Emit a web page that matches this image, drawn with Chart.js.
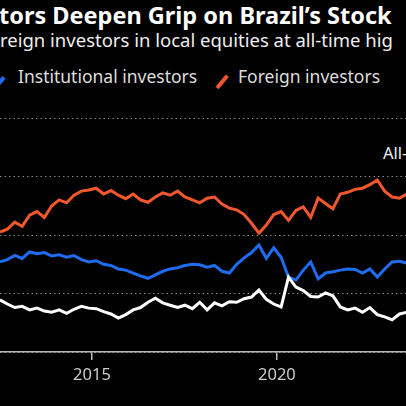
<!DOCTYPE html><html><head><meta charset="utf-8">
<script src="https://cdn.jsdelivr.net/npm/chart.js@4"></script>
<style>
html,body{margin:0;padding:0;background:#000;width:406px;height:406px;overflow:hidden;font-family:"Noto Sans",sans-serif;}
.t{position:absolute;white-space:nowrap;color:#fff;}
#wrap{position:absolute;left:0;top:112px;width:406px;height:294px;}
</style></head><body>
<div class="t" style="left:-1px;top:-1px;font-size:23.5px;font-weight:bold;">tors Deepen Grip on Brazil’s Stock</div>
<div class="t" style="left:0px;top:27px;font-size:18.5px;color:#eee;">reign investors in local equities at all-time hig</div>
<div class="t" style="left:-6px;top:80px;width:12px;height:3.5px;background:#1f6cf0;transform:rotate(-50deg);"></div>
<div class="t" style="left:18px;top:64px;font-size:17.5px;color:#ddd;">Institutional investors</div>
<div class="t" style="left:214px;top:80px;width:16px;height:3.5px;background:#f2582c;transform:rotate(-50deg);"></div>
<div class="t" style="left:238px;top:64px;font-size:17.5px;color:#ddd;">Foreign investors</div>
<div class="t" style="left:383px;top:141px;font-size:16.5px;color:#eee;">All-time high</div>
<div id="wrap"><canvas id="c"></canvas></div>
<script>
const dates = Array.from({length:56},(_,i)=>+(2012.514+i*0.2).toFixed(3));
const foreign = [20.5,21,22.2,21.5,23.4,24,23,25,26,25.5,26.8,27.5,27.7,28,27,27.6,26.8,26.2,27,26,25.6,26.5,27.2,26.8,27.5,26.5,26,25.5,26.3,26.5,25.3,24.6,24.3,23.5,22,20.3,21.7,23.5,24,22.5,24.2,24.8,23,26.3,25.4,24.5,27,27.3,27.8,28,28.6,29.4,27.5,26.5,26.3,27];
const institutional = [15.4,15.8,16.5,16,17.1,16.8,17,16.4,16.6,16.2,16.5,15.8,15.4,15.6,15,14.8,14.2,14,13.5,13,12.6,13.2,13.8,14.2,14.4,14.8,15,14.9,14.5,14.8,13.8,13.5,15,16.1,17,18.3,16,17.8,16.2,12.8,12.3,14,15.4,12.5,13.5,13.7,14,14.2,14.1,13.5,14.2,12.8,14.2,15.4,15.5,15.2];
const individual = [8.9,8.2,7.6,7.8,7.2,7.5,7,6.8,7.2,6.6,7.3,7.8,7.5,7.4,6.9,6.5,5.8,6.4,7.2,7.6,8.5,9.2,8.4,8,7.6,8,7.4,8.5,7.2,8.4,7.9,8.6,8.5,9.1,9.4,10.6,9,8.2,7.7,12.8,11.1,10.5,9.5,9.4,10.1,9.6,7.7,7.2,7.5,6.8,7.6,6.4,6,5.5,6.5,6.8];
const xTicks = [2015,2020];
const pts = a => a.map((v,i)=>({x:dates[i],y:v}));
const ds = (d,c)=>({data:pts(d),borderColor:c,borderWidth:3,pointRadius:0,tension:0,fill:false});
new Chart(document.getElementById('c'),{type:'line',
data:{datasets:[ds(individual,'#ffffff'),ds(institutional,'#1f6cf0'),ds(foreign,'#f2582c')]},
options:{responsive:true,maintainAspectRatio:false,animation:false,
layout:{padding:{top:6,left:0,right:0,bottom:0}},
plugins:{legend:{display:false},tooltip:{enabled:false}},
scales:{
x:{type:'linear',min:dates[0],max:2023.49,
afterBuildTicks:s=>{s.ticks=xTicks.map(v=>({value:v}));},
afterFit:s=>{s.height=54;},
ticks:{color:'#ccc',font:{size:16.5,family:'Noto Sans'},padding:5,callback:v=>String(v),maxRotation:0},
grid:{drawOnChartArea:false,drawTicks:true,tickLength:8,color:'#bbb',lineWidth:1.5},
border:{color:'#bbb',width:1.5}},
y:{min:0,max:40,display:true,
afterFit:s=>{s.width=0;},
ticks:{display:false,stepSize:10},
grid:{color:'#888',lineWidth:1,drawTicks:false},
border:{display:false,dash:[1.5,3]}}
}}});
</script>
</body></html>
